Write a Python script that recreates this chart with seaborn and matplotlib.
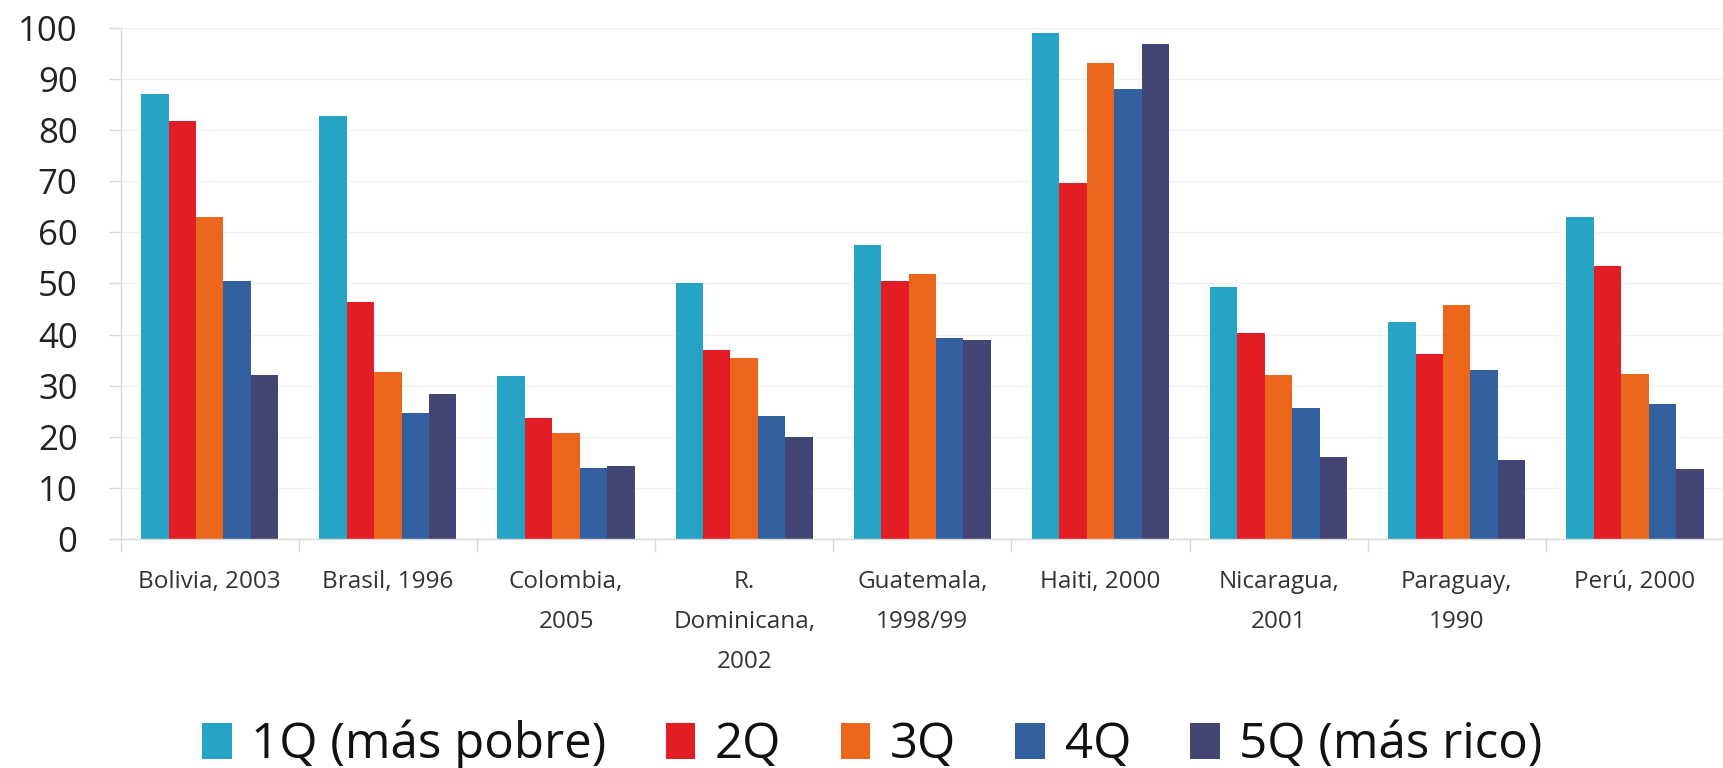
import matplotlib
matplotlib.use("Agg")
import matplotlib.pyplot as plt
from matplotlib.patches import Patch
from matplotlib.ticker import FixedLocator
import pandas as pd
import seaborn as sns

# Countries / survey years
categories = [
    "Bolivia, 2003", "Brasil, 1996", "Colombia,\n2005", "R.\nDominicana,\n2002",
    "Guatemala,\n1998/99", "Haiti, 2000", "Nicaragua,\n2001", "Paraguay,\n1990",
    "Perú, 2000",
]
quintiles = ["1Q (más pobre)", "2Q", "3Q", "4Q", "5Q (más rico)"]

q1 = [87, 82.7, 31.8, 50, 57.6, 99, 49.3, 42.5, 63]
q2 = [81.7, 46.4, 23.6, 37, 50.4, 69.6, 40.3, 36.2, 53.4]
q3 = [63, 32.6, 20.8, 35.5, 51.8, 93, 32, 45.7, 32.3]
q4 = [50.4, 24.6, 14, 24.1, 39.4, 88, 25.7, 33, 26.4]
q5 = [32.1, 28.3, 14.3, 20, 38.9, 96.8, 16.1, 15.5, 13.8]

colors = ["#27A3C5", "#E21D25", "#EC661C", "#33609E", "#434674"]

series = [q1, q2, q3, q4, q5]
df = pd.DataFrame(
    [(c, q, v) for q, vals in zip(quintiles, series) for c, v in zip(categories, vals)],
    columns=["pais", "quintil", "valor"],
)

sns.set_theme(style="white")
plt.rcParams["font.family"] = ["Open Sans", "DejaVu Sans"]

fig = plt.figure(figsize=(17.24, 7.68), dpi=100)
ax = fig.add_axes([0.070, 0.298, 0.930, 0.666])

sns.barplot(
    data=df, x="pais", y="valor", hue="quintil", order=categories,
    hue_order=quintiles, palette=colors, saturation=1, width=0.77,
    dodge=True, ax=ax, legend=False, linewidth=0,
)

ax.set_xlim(-0.5, len(categories) - 0.5)
ax.set_ylim(0, 100)
ax.set_yticks(range(0, 101, 10))
ax.set_xlabel("")
ax.set_ylabel("")

# faint horizontal grid behind the bars
ax.set_axisbelow(True)
ax.yaxis.grid(True, color="#f1f1f1", linewidth=1.0)
ax.xaxis.grid(False)

for side in ["top", "right"]:
    ax.spines[side].set_visible(False)
for side in ["left", "bottom"]:
    ax.spines[side].set_color("#d9d9d9")
    ax.spines[side].set_linewidth(1.0)

ax.tick_params(axis="y", length=9, width=1, color="#d9d9d9", pad=22,
               labelsize=25, labelcolor="#222222", left=True)
# category labels at centres, separator ticks at group boundaries
ax.set_xticks(range(len(categories)))
ax.set_xticklabels(categories, fontsize=17.5, color="#333333", linespacing=1.9,
                   va="top")
ax.tick_params(axis="x", which="major", length=0, pad=22)
ax.xaxis.set_minor_locator(FixedLocator([i - 0.5 for i in range(len(categories) + 1)]))
ax.tick_params(axis="x", which="minor", length=9, width=1, color="#d9d9d9",
               bottom=True)

handles = [Patch(facecolor=c, edgecolor="none") for c in colors]
fig.legend(
    handles, quintiles, loc="center", bbox_to_anchor=(0.506, 0.030), ncol=5,
    frameon=False, fontsize=35.5, handlelength=0.6, handleheight=0.75,
    handletextpad=0.4, columnspacing=1.2, labelcolor="#111111",
)

fig.savefig("out.png", dpi=100, facecolor="white")
